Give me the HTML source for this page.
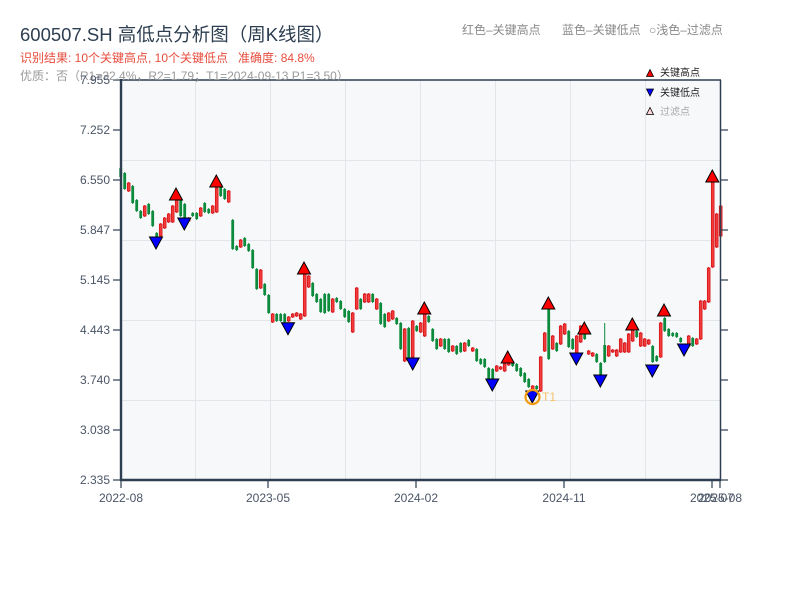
<!DOCTYPE html>
<html>
<head>
<meta charset="utf-8">
<style>
html,body{margin:0;padding:0;background:#fff;}
body{width:800px;height:600px;overflow:hidden;}
svg{display:block;}
text{font-family:"Liberation Sans","Noto Sans CJK SC",sans-serif;}
</style>
</head>
<body>
<svg id="c" xmlns="http://www.w3.org/2000/svg" width="800" height="600" viewBox="0 0 800 600">
  <rect x="0" y="0" width="800" height="600" fill="#ffffff"/>
  <!-- plot background -->
  <rect x="120" y="80" width="600" height="400" fill="#f6f8fa"/>
  <!-- grid -->
  <g stroke="#e2e5ea" stroke-width="1">
    <line x1="120" y1="160.5" x2="720" y2="160.5"/>
    <line x1="120" y1="240.5" x2="720" y2="240.5"/>
    <line x1="120" y1="320.5" x2="720" y2="320.5"/>
    <line x1="120" y1="400.5" x2="720" y2="400.5"/>
    <line x1="195.5" y1="80" x2="195.5" y2="480"/>
    <line x1="270.5" y1="80" x2="270.5" y2="480"/>
    <line x1="345.5" y1="80" x2="345.5" y2="480"/>
    <line x1="420.5" y1="80" x2="420.5" y2="480"/>
    <line x1="495.5" y1="80" x2="495.5" y2="480"/>
    <line x1="570.5" y1="80" x2="570.5" y2="480"/>
    <line x1="645.5" y1="80" x2="645.5" y2="480"/>
  </g>
  <g id="candles"></g>
  <g id="markers"></g>

  <!-- T1 -->
  <circle cx="532.5" cy="397" r="7" fill="none" stroke="#f39c12" stroke-width="2.2"/>
  <text x="542" y="401" font-size="12" fill="#f7c26b">T1</text>

  <!-- axes -->
  <g stroke="#2c3e50" fill="none">
    <line x1="120" y1="80" x2="721" y2="80" stroke-width="1.5"/>
    <line x1="720.5" y1="80" x2="720.5" y2="481" stroke-width="1.5"/>
    <line x1="121" y1="79" x2="121" y2="481" stroke-width="2.4"/>
    <line x1="120" y1="480" x2="721" y2="480" stroke-width="2.4"/>
  </g>
  <!-- left ticks -->
  <g stroke="#2c3e50" stroke-width="1.2">
    <line x1="113" y1="80" x2="120" y2="80"/>
    <line x1="113" y1="130" x2="120" y2="130"/>
    <line x1="113" y1="180" x2="120" y2="180"/>
    <line x1="113" y1="230" x2="120" y2="230"/>
    <line x1="113" y1="280" x2="120" y2="280"/>
    <line x1="113" y1="330" x2="120" y2="330"/>
    <line x1="113" y1="380" x2="120" y2="380"/>
    <line x1="113" y1="430" x2="120" y2="430"/>
    <line x1="113" y1="480" x2="120" y2="480"/>
    <!-- right ticks -->
    <line x1="721" y1="130" x2="728" y2="130"/>
    <line x1="721" y1="180" x2="728" y2="180"/>
    <line x1="721" y1="230" x2="728" y2="230"/>
    <line x1="721" y1="280" x2="728" y2="280"/>
    <line x1="721" y1="330" x2="728" y2="330"/>
    <line x1="721" y1="380" x2="728" y2="380"/>
    <line x1="721" y1="430" x2="728" y2="430"/>
    <line x1="721" y1="480" x2="728" y2="480"/>
    <!-- bottom ticks -->
    <line x1="121" y1="481" x2="121" y2="488"/>
    <line x1="268" y1="481" x2="268" y2="488"/>
    <line x1="416" y1="481" x2="416" y2="488"/>
    <line x1="564" y1="481" x2="564" y2="488"/>
    <line x1="712" y1="481" x2="712" y2="488"/>
    <line x1="720" y1="481" x2="720" y2="488"/>
  </g>

  <!-- title texts -->
  <text x="20" y="41" font-size="18.5" fill="#2c3e50">600507.SH 高低点分析图（周K线图）</text>
  <text x="20" y="62" font-size="12" fill="#e74c3c">识别结果: 10个关键高点, 10个关键低点&#160;&#160;&#160;准确度: 84.8%</text>
  <text x="20" y="80" font-size="12" fill="#9a9a9a">优质：否（R1=32.4%，R2=1.79；T1=2024-09-13 P1=3.50）</text>

  <text x="462" y="34" font-size="12" fill="#8a8a8a">红色–关键高点</text>
  <text x="562" y="34" font-size="12" fill="#8a8a8a">蓝色–关键低点</text>
  <text x="649" y="34" font-size="12" fill="#8a8a8a">○浅色–过滤点</text>

  <!-- y labels -->
  <g font-size="12" fill="#4a5566" text-anchor="end">
    <text x="110" y="84">7.955</text>
    <text x="110" y="134">7.252</text>
    <text x="110" y="184">6.550</text>
    <text x="110" y="234">5.847</text>
    <text x="110" y="284">5.145</text>
    <text x="110" y="334">4.443</text>
    <text x="110" y="384">3.740</text>
    <text x="110" y="434">3.038</text>
    <text x="110" y="484">2.335</text>
  </g>
  <!-- x labels -->
  <g font-size="12" fill="#4a5566" text-anchor="middle">
    <text x="121" y="502">2022-08</text>
    <text x="268" y="502">2023-05</text>
    <text x="416" y="502">2024-02</text>
    <text x="564" y="502">2024-11</text>
    <text x="712" y="502">2025-07</text>
    <text x="720" y="502">2025-08</text>
  </g>

  <!-- legend -->
  <polygon points="646.5,76.5 653.5,76.5 650,69.5" fill="#ff0000" stroke="#000" stroke-width="0.8"/>
  <text x="660" y="76" font-size="10" fill="#222">关键高点</text>
  <polygon points="646.5,89 653.5,89 650,96" fill="#0000ff" stroke="#000" stroke-width="0.8"/>
  <text x="660" y="96" font-size="10" fill="#222">关键低点</text>
  <polygon points="646.5,114.5 653.5,114.5 650,107.5" fill="#ffd6dc" stroke="#000" stroke-width="0.8"/>
  <text x="660" y="115" font-size="10" fill="#aaaaaa">过滤点</text>
</svg>
<script>
(function(){
var NS="http://www.w3.org/2000/svg";
var data=[
['g',167,178],['g',172,190],['r',182,192],['g',185,204],['g',199,212],['g',210,219],['r',205,217],['g',203,215],['g',210,227],['g',232,238],
['r',223,237],['r',217,229],['r',213,223],['r',205,223],['r',192,213],['g',199,217],['g',203,219],['r',217,222],['g',212,217],['g',212,220],
['r',207,217],['g',202,213],['g',208,214],['r',205,214],['r',187,213],['g',183,197],['g',188,200],['r',190,203],['g',219,250],['g',245,251],
['r',239,248],['g',237,247],['g',243,252],['g',249,269],['g',268,290],['r',269,289],['g',283,296],['g',294,314],['r',313,323],['g',313,322],
['g',313,322],['g',313,323],['r',316,322],['r',313,318],['r',312,317],['r',313,320],['r',273,317],['r',275,288],['g',282,297],['g',293,303],
['g',298,313],['g',293,314],['g',293,312],['r',298,313],['g',297,303],['g',300,310],['g',308,318],['g',310,323],['r',312,333],['r',287,310],
['g',298,310],['r',293,303],['r',293,303],['g',293,303],['r',298,310],['g',302,325],['g',313,328],['r',312,322],['r',310,320],['g',317,325],
['g',322,350],['r',328,362],['g',327,360],['r',320,358],['g',325,332],['r',322,333],['r',313,337],['g',315,323],['g',328,342],['g',338,350],
['r',338,347],['g',338,350],['g',338,353],['r',345,352],['g',345,355],['g',342,353],['r',342,352],['g',339,347],['r',347,352],['g',348,362],
['g',358,365],['g',358,368],['g',367,380],['g',368,380],['r',365,372],['r',366,370],['r',363,372],['r',358,366],['g',360,367],['g',363,372],
['g',367,377],['g',372,383],['g',378,388],['r',385,392],['g',385,390],['r',356,392],['r',332,352],['g',308,360],['r',335,350],['g',342,352],
['r',325,345],['r',323,335],['g',330,348],['g',338,350],['r',335,355],['r',325,343],['g',333,340],['r',350,355],['r',352,357],['g',353,363],
['g',362,377],['g',323,363,345],['r',345,357],['r',349,353],['r',349,357],['r',338,353],['r',342,353],['r',333,353],['r',325,342],['g',330,338],
['r',332,347],['r',338,347],['r',339,345],['g',345,363],['g',355,362],['r',322,358],['g',317,332],['g',328,337],['g',332,337],['g',332,338],
['g',337,343],['g',345,350],['r',335,347],['g',337,347],['r',338,345],['r',300,340],['r',300,310],['r',267,303],['r',180,268],['r',213,248],
['r',205,237]
];
var g=document.getElementById('candles');
for(var i=0;i<data.length;i++){
  var d=data[i],x=120.7+4*i;
  var col=d[0]==='g'?'#0e8a3c':'#e0161c';
  var top=d[1],bot=d[2];
  var w=document.createElementNS(NS,'line');
  w.setAttribute('x1',x);w.setAttribute('x2',x);
  w.setAttribute('y1',top);w.setAttribute('y2',bot);
  w.setAttribute('stroke',col);w.setAttribute('stroke-width','1');
  g.appendChild(w);
  var bt=d.length>3?d[3]:top+1;
  var bb=bot-1;
  if(bb-bt<2){bb=bt+2;}
  var r=document.createElementNS(NS,'rect');
  r.setAttribute('x',x-1.4);r.setAttribute('y',bt);
  r.setAttribute('width','2.8');r.setAttribute('height',bb-bt);
  if(d[0]==='g'){r.setAttribute('fill','#0e8a3c');}
  else{r.setAttribute('fill','#f23a3a');r.setAttribute('stroke','#d10f14');r.setAttribute('stroke-width','0.7');}
  g.appendChild(r);
}
var m=document.getElementById('markers');
var highs=[[176,200],[216.3,187],[304,274],[424.3,314],[507.7,363],[548.3,309],[584.3,334],[632.3,330],[664,316],[712.3,182]];
var lows=[[156,237],[184.3,218],[288,322.7],[412.7,358],[492.3,379],[532.3,391],[576.3,353],[600.3,375],[652.3,365],[684,344]];
function tri(pts,fill){
  var p=document.createElementNS(NS,'polygon');
  p.setAttribute('points',pts);p.setAttribute('fill',fill);
  p.setAttribute('stroke','#000');p.setAttribute('stroke-width','1');
  m.appendChild(p);
}
highs.forEach(function(h){var x=h[0],b=h[1];tri((x-6.5)+','+b+' '+(x+6.5)+','+b+' '+x+','+(b-12),'#ff0000');});
lows.forEach(function(l){var x=l[0],t=l[1];tri((x-6.5)+','+t+' '+(x+6.5)+','+t+' '+x+','+(t+12),'#0000ff');});
})();
</script>
</body>
</html>
